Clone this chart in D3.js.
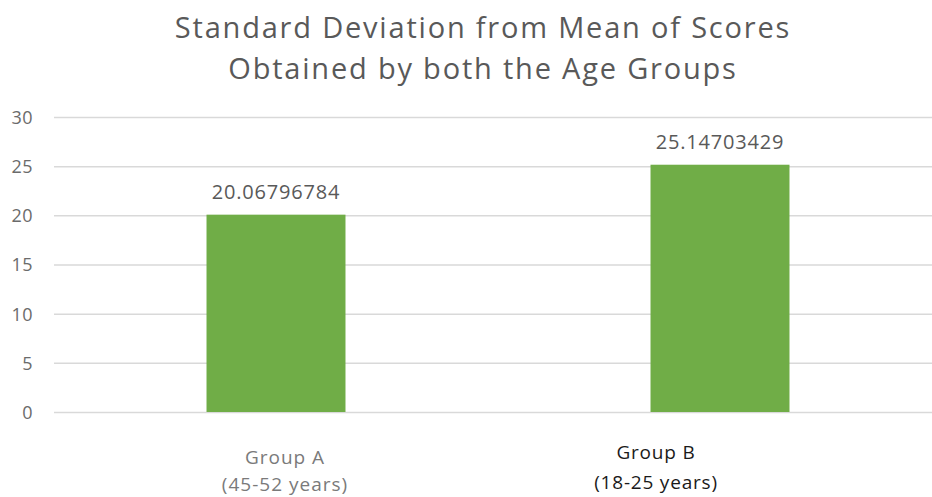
<!DOCTYPE html>
<html>
<head>
<meta charset="utf-8">
<script src="https://cdn.jsdelivr.net/npm/d3@7/dist/d3.min.js"></script>
<style>
  html, body { margin: 0; padding: 0; background: #fff; }
  #chart { width: 932px; height: 497px; overflow: hidden; }
  text { font-family: "Open Sans", "Noto Sans", sans-serif; }
</style>
</head>
<body>
<div id="chart"></div>
<script>
const categories = ['Group A', 'Group B']
const subLabels = ['(45-52 years)', '(18-25 years)']
const values = [20.06796784, 25.14703429]
const valueLabels = ['20.06796784', '25.14703429']
const yTicks = [0, 5, 10, 15, 20, 25, 30]
const titleLines = ['Standard Deviation from Mean of Scores', 'Obtained by both the Age Groups']

const width = 932
const height = 497
const margin = {left: 54, top: 117, right: -10, bottom: 85}

const svg = d3.select('#chart')
.append('svg')
.attr('width', width)
.attr('height', height)

const xScale = d3.scaleBand()
.domain(categories)
.range([margin.left, width - margin.right])

const yScale = d3.scaleLinear()
.domain([0, 30])
.range([height - margin.bottom, margin.top])

// gridlines + y labels
const yAxis = svg.append('g')
.attr('class', 'yaxis')
.attr('transform', `translate(${margin.left},0)`)
.call(
  d3.axisLeft(yScale)
  .tickValues(yTicks)
  .tickSize(-(width - margin.left))
  .tickPadding(21)
)

yAxis.select('.domain').remove()
yAxis.selectAll('line').attr('stroke', '#d9d9d9').attr('stroke-width', 1.5)
yAxis.selectAll('text')
.attr('fill', '#6b6b6b')
.style('font-size', '18px')
.style('letter-spacing', '0.5px')
.attr('dy', '0.36em')

// bars
const barW = xScale.bandwidth() * 0.313

svg.selectAll('rect.bar')
.data(values)
.enter()
.append('rect')
.attr('class', 'bar')
.attr('x', (d, i) => xScale(categories[i]) + xScale.bandwidth() / 2 - barW / 2)
.attr('y', d => yScale(d))
.attr('width', barW)
.attr('height', d => yScale(0) - yScale(d))
.attr('fill', '#70ad47')

// value labels
svg.selectAll('text.val')
.data(values)
.enter()
.append('text')
.attr('class', 'val')
.attr('x', (d, i) => xScale(categories[i]) + xScale.bandwidth() / 2)
.attr('y', d => yScale(d) - 16)
.attr('text-anchor', 'middle')
.attr('fill', '#595959')
.style('font-size', '20px')
.style('letter-spacing', '0.8px')
.text((d, i) => valueLabels[i])

// category labels (second one is set darker in the original)
const catStyle = [
  {dx: 9, y0: 464, y1: 491, color: '#7a7a7a', size: 19, ls: 1},
  {dx: -64, y0: 459, y1: 489, color: '#1a1a1a', size: 19, ls: 0.8}
]

categories.forEach((c, i) => {
  const s = catStyle[i]
  const cx = xScale(c) + xScale.bandwidth() / 2 + s.dx
  const t = svg.append('text')
  .attr('class', 'cat')
  .attr('x', cx)
  .attr('y', s.y0)
  .attr('text-anchor', 'middle')
  .attr('fill', s.color)
  .style('font-size', s.size + 'px')
  .style('letter-spacing', s.ls + 'px')
  t.append('tspan').attr('x', cx).text(c)
  t.append('tspan').attr('x', cx).attr('dy', s.y1 - s.y0).text(subLabels[i])
})

// title
svg.selectAll('text.title')
.data(titleLines)
.enter()
.append('text')
.attr('class', 'title')
.attr('x', 483)
.attr('y', (d, i) => 38 + i * 41)
.attr('text-anchor', 'middle')
.attr('fill', '#595959')
.style('font-size', '29px')
.style('letter-spacing', '1.8px')
.text(d => d)
</script>
</body>
</html>
